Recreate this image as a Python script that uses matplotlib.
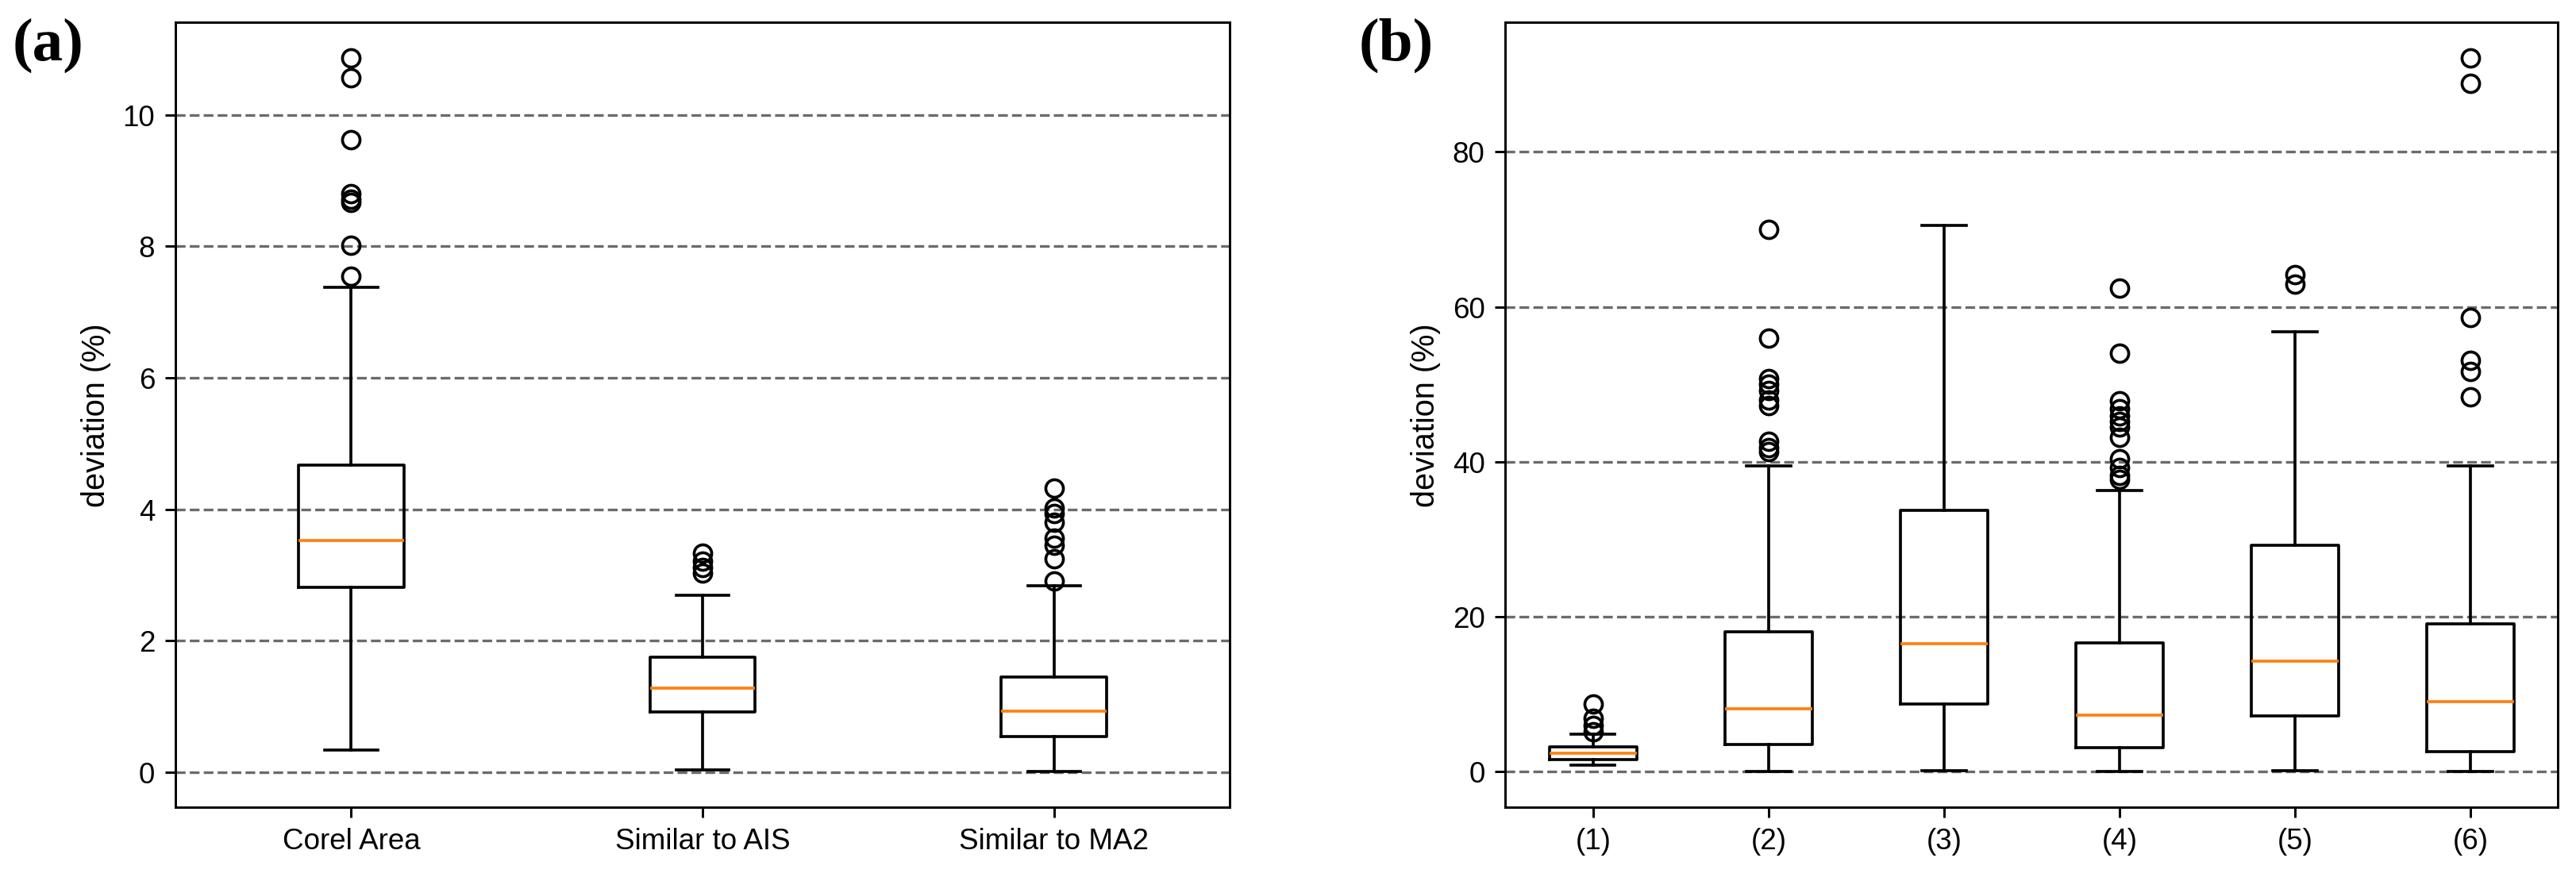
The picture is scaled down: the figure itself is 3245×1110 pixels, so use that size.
import matplotlib
matplotlib.use('Agg')
import matplotlib.pyplot as plt

plt.rcParams['font.family'] = 'Liberation Sans'

# panel (a): box statistics
labels_a = ['Corel Area', 'Similar to AIS', 'Similar to MA2']
q1_a = [2.81, 0.915, 0.54]
med_a = [3.52, 1.275, 0.93]
q3_a = [4.67, 1.745, 1.45]
lo_a = [0.34, 0.034, 0.01]
hi_a = [7.37, 2.69, 2.83]
fliers_a = [
    [10.86, 10.56, 9.62, 8.80, 8.72, 8.67, 8.02, 7.54],
    [3.33, 3.21, 3.11, 3.03],
    [4.32, 4.02, 3.94, 3.80, 3.56, 3.45, 3.25, 2.91],
]

# panel (b)
labels_b = ['(1)', '(2)', '(3)', '(4)', '(5)', '(6)']
q1_b = [1.54, 3.48, 8.71, 3.05, 7.19, 2.61]
med_b = [2.33, 8.06, 16.55, 7.26, 14.23, 9.0]
q3_b = [3.15, 18.0, 33.76, 16.62, 29.18, 19.02]
lo_b = [0.79, 0.0, 0.15, 0.0, 0.15, 0.0]
hi_b = [4.79, 39.5, 70.56, 36.3, 56.8, 39.5]
fliers_b = [
    [8.72, 6.84, 5.98, 5.13],
    [70.05, 56.0, 50.7, 50.0, 49.2, 48.0, 47.2, 42.66, 41.8, 41.3],
    [],
    [62.4, 54.0, 47.9, 46.8, 45.9, 45.2, 44.5, 43.2, 40.4, 39.25, 38.2, 37.7],
    [64.2, 62.9],
    [92.1, 88.9, 58.6, 53.1, 51.7, 48.4],
]


def make_stats(labels, q1, med, q3, lo, hi, fliers):
    stats = []
    for i in range(len(labels)):
        stats.append(dict(label=labels[i], q1=q1[i], med=med[i], q3=q3[i],
                          whislo=lo[i], whishi=hi[i], fliers=fliers[i]))
    return stats


dpi = 265
fig = plt.figure(figsize=(3245.5 / dpi, 1110.5 / dpi), dpi=dpi)

ax1 = fig.add_axes([0.0681, 0.0838, 0.4092, 0.8901])
ax1.bxp(make_stats(labels_a, q1_a, med_a, q3_a, lo_a, hi_a, fliers_a))
ax1.yaxis.grid(True, linestyle='--', color='0.42', linewidth=0.9)
ax1.set_ylabel('deviation (%)', fontsize=10.8)

ax2 = fig.add_axes([0.5843, 0.0838, 0.4086, 0.8901])
ax2.bxp(make_stats(labels_b, q1_b, med_b, q3_b, lo_b, hi_b, fliers_b))
ax2.yaxis.grid(True, linestyle='--', color='0.42', linewidth=0.9)
ax2.set_ylabel('deviation (%)', fontsize=10.8)

fig.text(16 / 3245, 1 - 57 / 1110, '(a)', family='Liberation Serif',
         weight='bold', fontsize=21, ha='left', va='center')
fig.text(1711 / 3245, 1 - 57 / 1110, '(b)', family='Liberation Serif',
         weight='bold', fontsize=21, ha='left', va='center')

fig.savefig('out.png', dpi=dpi)
